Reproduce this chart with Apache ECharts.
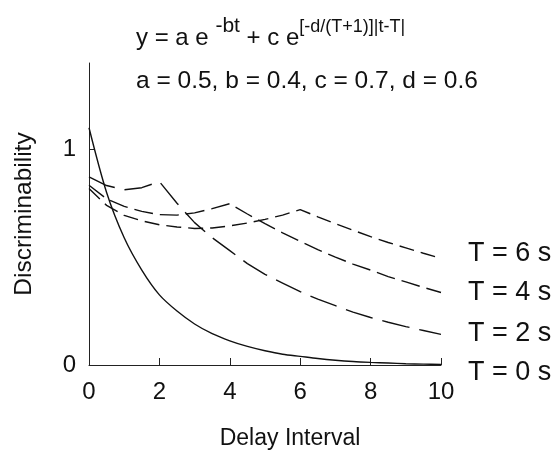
<!DOCTYPE html>
<html>
<head>
<meta charset="utf-8">
<script src="https://cdn.jsdelivr.net/npm/echarts@6/dist/echarts.min.js"></script>
<style>
html,body{margin:0;padding:0;background:#fff;}
#chart{width:553px;height:458px;}
</style>
</head>
<body>
<div id="chart"></div>
<script>
// Delay interval (s)
var delay = [0,0.5,1,1.5,2,2.5,3,3.5,4,4.5,5,5.5,6,6.5,7,7.5,8,8.5,9,9.5,10];
// Discriminability for each retention condition T
var seriesNames = ['T = 0 s','T = 2 s','T = 4 s','T = 6 s'];
var T0 = [1.10,0.80,0.59,0.44,0.325,0.25,0.19,0.145,0.112,0.086,0.066,0.05,0.04,0.03,0.022,0.016,0.012,0.009,0.006,0.004,0.003];
var T2 = [0.872,0.832,0.812,0.822,0.85,0.75,0.66,0.59,0.53,0.47,0.42,0.38,0.34,0.305,0.275,0.245,0.22,0.198,0.178,0.16,0.142];
var T4 = [0.833,0.77,0.735,0.712,0.697,0.695,0.705,0.725,0.748,0.70,0.655,0.613,0.573,0.535,0.50,0.468,0.44,0.41,0.385,0.36,0.336];
var T6 = [0.818,0.74,0.694,0.668,0.65,0.64,0.633,0.635,0.645,0.658,0.675,0.695,0.72,0.687,0.655,0.625,0.595,0.568,0.543,0.518,0.494];
var xTicks = [0,2,4,6,8,10];
var yTicks = [0,1];

var FONT = "'Liberation Sans', Arial, sans-serif";
function pairs(vals){ return delay.map(function(t,i){ return [t, vals[i]]; }); }

var valueSets = [T0, T2, T4, T6];
var dashes = ['solid', [28,10], [19,7], [15,7]];
var smoothing = [0.3, false, false, false];
var labelDy = [8, -1, 0, -5];

var chart = echarts.init(document.getElementById('chart'), null, {renderer:'canvas'});
chart.setOption({
  backgroundColor: '#fff',
  animation: false,
  title: [{
    left: 131, top: 11,
    text: '{m|y = a e }{s|-bt}{m| + c e}{u|[-d/(T+1)]|t-T|}',
    textStyle: {
      fontWeight: 'normal',
      rich: {
        m: {fontFamily: FONT, fontSize: 24, fontWeight: 'normal', color: '#111', verticalAlign: 'bottom', lineHeight: 28},
        s: {fontFamily: FONT, fontSize: 21, fontWeight: 'normal', color: '#111', verticalAlign: 'top', padding: [0,0,13,0]},
        u: {fontFamily: FONT, fontSize: 18, fontWeight: 'normal', color: '#111', verticalAlign: 'top', padding: [2,0,14,0]}
      }
    }
  },{
    left: 131, top: 64,
    text: 'a = 0.5, b = 0.4, c = 0.7, d = 0.6',
    textStyle: {fontFamily: FONT, fontSize: 24.5, fontWeight: 'normal', color: '#111'}
  }],
  grid: {left: 89, right: 112, top: 63, bottom: 93},
  xAxis: {
    type: 'value', min: 0, max: 10, interval: 2,
    name: 'Delay Interval', nameLocation: 'middle', nameGap: 62,
    nameTextStyle: {fontFamily: FONT, fontSize: 23, color: '#111', padding: [0,0,0,50]},
    axisLine: {lineStyle: {color: '#222', width: 1}},
    axisTick: {inside: true, length: 7, lineStyle: {color: '#222'}},
    axisLabel: {fontFamily: FONT, fontSize: 24, color: '#111', margin: 15,
      customValues: xTicks},
    splitLine: {show: false}
  },
  yAxis: {
    type: 'value', min: 0, max: 1.4, interval: 1,
    name: 'Discriminability', nameLocation: 'middle', nameGap: 52,
    nameTextStyle: {fontFamily: FONT, fontSize: 24.5, color: '#111'},
    axisLine: {show: true, lineStyle: {color: '#222', width: 1}},
    axisTick: {show: true, inside: true, length: 6, lineStyle: {color: '#222'}, customValues: yTicks},
    axisLabel: {fontFamily: FONT, fontSize: 24, color: '#111', margin: 13, customValues: yTicks},
    splitLine: {show: false}
  },
  series: valueSets.map(function(vals, k){
    return {
      name: seriesNames[k],
      type: 'line',
      data: pairs(vals),
      showSymbol: false,
      symbol: 'none',
      smooth: smoothing[k],
      lineStyle: {color: '#111', width: 1.4, type: dashes[k]},
      endLabel: {
        show: true, formatter: '{a}', distance: 0, offset: [27, labelDy[k]],
        align: 'left', verticalAlign: 'middle',
        fontFamily: FONT, fontSize: 27, color: '#111'
      },
      z: 2 + k
    };
  })
});
</script>
</body>
</html>
